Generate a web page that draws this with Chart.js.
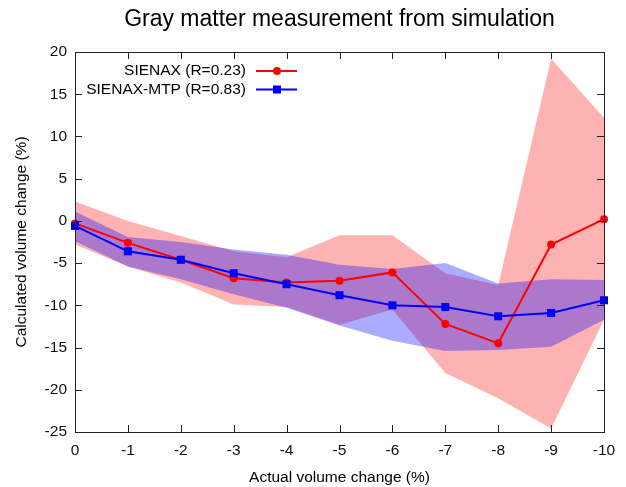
<!DOCTYPE html>
<html>
<head>
<meta charset="utf-8">
<script src="https://cdn.jsdelivr.net/npm/chart.js@4/dist/chart.umd.min.js"></script>
<style>
html,body{margin:0;padding:0;background:#fff;}
#wrap{width:626px;height:487px;position:relative;}
</style>
</head>
<body>
<div id="wrap"><canvas id="c" width="626" height="487"></canvas></div>
<script>
const titleText = "Gray matter measurement from simulation";
const xTitle = "Actual volume change (%)";
const yTitle = "Calculated volume change (%)";
const seriesNames = ["SIENAX (R=0.23)", "SIENAX-MTP (R=0.83)"];

const actualChange = [0, -1, -2, -3, -4, -5, -6, -7, -8, -9, -10];
const sienax      = [-0.3, -2.6, -4.6, -6.8, -7.3, -7.1, -6.1, -12.2, -14.5, -2.8, 0.2];
const sienaxUpper = [2.3, 0.0, -1.8, -3.6, -4.3, -1.7, -1.7, -6.2, -7.6, 19.2, 12.2];
const sienaxLower = [-2.8, -5.4, -7.3, -9.9, -10.2, -12.3, -10.5, -18.0, -21.0, -24.6, -11.7];
const mtp         = [-0.6, -3.6, -4.6, -6.2, -7.5, -8.8, -10.0, -10.2, -11.3, -10.9, -9.4];
const mtpUpper    = [1.1, -1.9, -2.5, -3.4, -4.0, -5.2, -5.7, -5.0, -7.4, -6.9, -7.0];
const mtpLower    = [-2.4, -5.4, -6.9, -8.7, -10.3, -12.4, -14.2, -15.4, -15.3, -14.9, -11.7];

const xTicks = [0, -1, -2, -3, -4, -5, -6, -7, -8, -9, -10];
const yTicks = [20, 15, 10, 5, 0, -5, -10, -15, -20, -25];

const pts = arr => arr.map((v, i) => ({x: actualChange[i], y: v}));
const FONT = "'Liberation Sans', Arial, sans-serif";
const RED = '#ff0000', BLUE = '#0000ff';

const decor = {
  id: 'decor',
  afterDraw(chart) {
    const ctx = chart.ctx, a = chart.chartArea;
    const xs = chart.scales.x, ys = chart.scales.y;
    ctx.save();
    // frame
    ctx.strokeStyle = '#222'; ctx.lineWidth = 1;
    ctx.strokeRect(Math.round(a.left) + 0.5, Math.round(a.top) + 0.5, Math.round(a.right - a.left), Math.round(a.bottom - a.top));
    ctx.beginPath();
    const tl = 7;
    xTicks.forEach(v => {
      const px = Math.round(xs.getPixelForValue(v)) + 0.5;
      ctx.moveTo(px, a.bottom); ctx.lineTo(px, a.bottom - tl);
      ctx.moveTo(px, a.top); ctx.lineTo(px, a.top + tl);
    });
    yTicks.forEach(v => {
      const py = Math.round(ys.getPixelForValue(v)) + 0.5;
      ctx.moveTo(a.left, py); ctx.lineTo(a.left + tl, py);
      ctx.moveTo(a.right, py); ctx.lineTo(a.right - tl, py);
    });
    ctx.stroke();
    // titles
    ctx.fillStyle = '#000';
    ctx.textAlign = 'center'; ctx.textBaseline = 'middle';
    ctx.font = '23px ' + FONT;
    const cx = (a.left + a.right) / 2;
    ctx.fillText(titleText, cx, 20);
    ctx.font = '15.5px ' + FONT;
    ctx.fillText(xTitle, cx, 478);
    ctx.save();
    ctx.translate(22, (a.top + a.bottom) / 2);
    ctx.rotate(-Math.PI / 2);
    ctx.fillText(yTitle, 0, 0);
    ctx.restore();
    // legend
    const rows = [
      {name: seriesNames[0], color: RED, style: 'circle', y: 71},
      {name: seriesNames[1], color: BLUE, style: 'rect', y: 89.5}
    ];
    rows.forEach(r => {
      ctx.fillStyle = '#000';
      ctx.textAlign = 'right';
      ctx.fillText(r.name, 246, r.y);
      ctx.strokeStyle = r.color; ctx.lineWidth = 2;
      ctx.beginPath(); ctx.moveTo(256, r.y); ctx.lineTo(297, r.y); ctx.stroke();
      ctx.fillStyle = r.color;
      if (r.style === 'circle') {
        ctx.beginPath(); ctx.arc(277, r.y, 4, 0, Math.PI * 2); ctx.fill();
      } else {
        ctx.fillRect(273, r.y - 4, 8, 8);
      }
    });
    ctx.restore();
  }
};

new Chart(document.getElementById('c'), {
  type: 'line',
  data: {
    datasets: [
      {label: seriesNames[1], data: pts(mtp), borderColor: BLUE, backgroundColor: BLUE, borderWidth: 2,
       pointStyle: 'rect', pointRadius: 5.7, pointHoverRadius: 5.7, pointBorderWidth: 0, fill: false, clip: false},
      {label: seriesNames[0], data: pts(sienax), borderColor: RED, backgroundColor: RED, borderWidth: 2,
       pointStyle: 'circle', pointRadius: 4, pointHoverRadius: 4, pointBorderWidth: 0, fill: false, clip: false},
      {label: 'mtpUpper', data: pts(mtpUpper), borderWidth: 0, borderColor: 'rgba(0,0,0,0)', pointRadius: 0, fill: false},
      {label: 'mtpLower', data: pts(mtpLower), borderWidth: 0, borderColor: 'rgba(0,0,0,0)', pointRadius: 0,
       fill: {target: 2}, backgroundColor: 'rgba(0,0,255,0.33)'},
      {label: 'sienaxUpper', data: pts(sienaxUpper), borderWidth: 0, borderColor: 'rgba(0,0,0,0)', pointRadius: 0, fill: false},
      {label: 'sienaxLower', data: pts(sienaxLower), borderWidth: 0, borderColor: 'rgba(0,0,0,0)', pointRadius: 0,
       fill: {target: 4}, backgroundColor: 'rgba(255,0,0,0.3)'}
    ]
  },
  options: {
    responsive: false,
    animation: false,
    events: [],
    layout: {padding: {top: 52, right: 22, left: 0, bottom: 0}},
    plugins: {legend: {display: false}, title: {display: false}, tooltip: {enabled: false}},
    elements: {line: {tension: 0}},
    scales: {
      x: {
        type: 'linear', min: -10, max: 0, reverse: true,
        grid: {display: false, drawTicks: false}, border: {display: false},
        ticks: {stepSize: 1, padding: 9, color: '#111', font: {family: FONT, size: 15.5}, maxRotation: 0,
                callback: v => String(v)},
        afterFit: s => { s.height = 55; }
      },
      y: {
        type: 'linear', min: -25, max: 20,
        grid: {display: false, drawTicks: false}, border: {display: false},
        ticks: {stepSize: 5, padding: 8, color: '#111', font: {family: FONT, size: 15.5},
                callback: v => String(v)},
        afterFit: s => { s.width = 75; }
      }
    }
  },
  plugins: [decor]
});
</script>
</body>
</html>
